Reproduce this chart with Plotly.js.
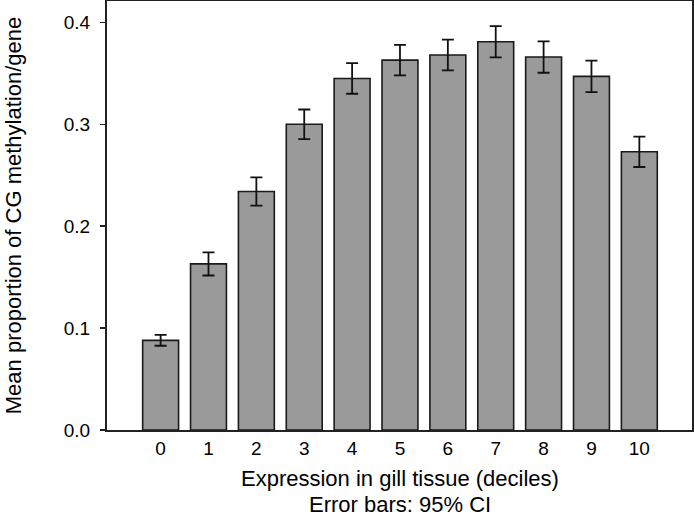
<!DOCTYPE html>
<html>
<head>
<meta charset="utf-8">
<script src="https://cdn.plot.ly/plotly-3.0.1.min.js"></script>
<style>html,body{margin:0;padding:0;background:#fff;}#chart{width:694px;height:517px;}</style>
</head>
<body>
<div id="chart"></div>
<script>
const deciles = [0, 1, 2, 3, 4, 5, 6, 7, 8, 9, 10];
const meanMethylation = [0.088, 0.163, 0.234, 0.300, 0.345, 0.363, 0.368, 0.381, 0.366, 0.347, 0.273];
const ci95 = [0.0053, 0.0114, 0.0139, 0.0145, 0.015, 0.015, 0.015, 0.0154, 0.0154, 0.0154, 0.0149];
const yTickVals = [0, 0.1, 0.2, 0.3, 0.4];
const yTickText = ['0.0', '0.1', '0.2', '0.3', '0.4'];
const xTitleLines = ['Expression in gill tissue (deciles)', 'Error bars: 95% CI'];

const trace = {
  type: 'bar',
  x: deciles,
  y: meanMethylation,
  marker: {color: '#9a9a9a', line: {color: '#1a1a1a', width: 1.6}},
  error_y: {type: 'data', array: ci95, visible: true, color: '#111', thickness: 1.8, width: 6},
  hoverinfo: 'none'
};

const fam = 'Liberation Sans, Arial, sans-serif';
const tickFont = {family: fam, size: 19, color: '#000'};
const titleFont = {family: fam, size: 22, color: '#000'};

const layout = {
  width: 694, height: 517,
  margin: {l: 107, r: 2, t: 1, b: 87},
  paper_bgcolor: '#fff', plot_bgcolor: '#fff',
  font: tickFont,
  bargap: 0.25,
  showlegend: false,
  xaxis: {
    range: [-1.12, 11.1],
    tickvals: deciles,
    ticktext: deciles.map(String),
    ticks: '',
    showgrid: false, zeroline: false,
    showline: true, linecolor: '#222', linewidth: 2, mirror: true,
    tickfont: tickFont
  },
  yaxis: {
    range: [0, 0.421],
    tickvals: yTickVals,
    ticktext: yTickText,
    ticks: 'outside', ticklen: 5, tickwidth: 1.5, tickcolor: '#222',
    ticklabelstandoff: 6,
    showgrid: false, zeroline: false,
    showline: true, linecolor: '#222', linewidth: 2, mirror: true,
    tickfont: tickFont,
    title: {text: 'Mean proportion of CG methylation/gene', font: titleFont, standoff: 36}
  },
  annotations: [
    {xref: 'paper', yref: 'paper', x: 0.5, y: -0.1119, xanchor: 'center', yanchor: 'middle',
     text: xTitleLines[0], showarrow: false, font: titleFont, borderpad: 0},
    {xref: 'paper', yref: 'paper', x: 0.5, y: -0.1725, xanchor: 'center', yanchor: 'middle',
     text: xTitleLines[1], showarrow: false, font: titleFont, borderpad: 0}
  ]
};

Plotly.newPlot('chart', [trace], layout, {displayModeBar: false, staticPlot: true});
</script>
</body>
</html>
